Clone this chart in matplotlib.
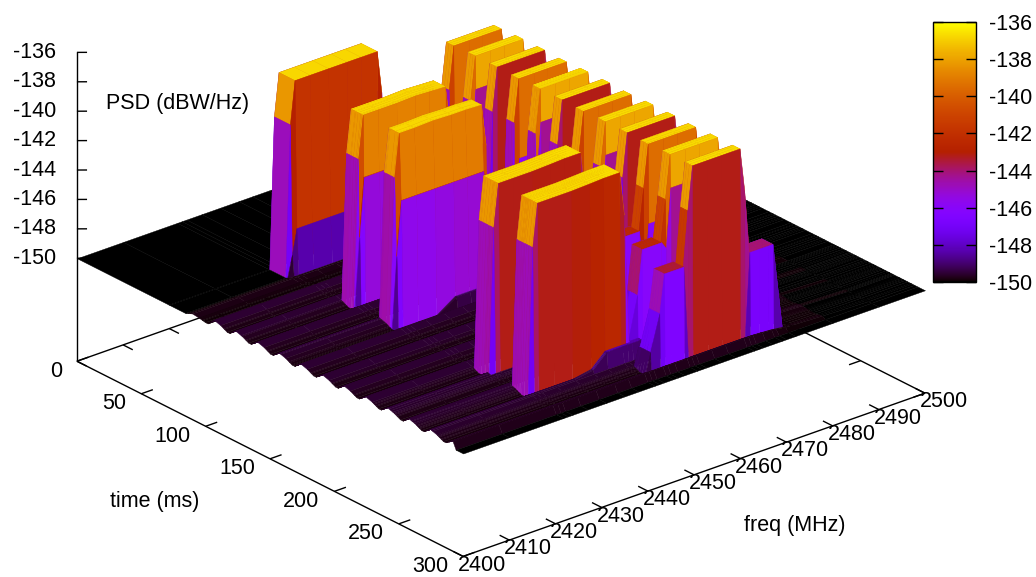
"""PSD waterfall over the 2.4 GHz band, redrawn as a gnuplot-style pm3d surface."""

import matplotlib

matplotlib.use("Agg")
import matplotlib.pyplot as plt
import numpy as np
from matplotlib.cm import ScalarMappable
from matplotlib.colors import LinearSegmentedColormap, Normalize
from mpl_toolkits.mplot3d.art3d import Poly3DCollection

WIDTH, HEIGHT = 1036, 577
Z_MIN, Z_MAX, Z_BASE = -150.0, -136.0, -157.0

FREQ_TICKS = [2400, 2410, 2420, 2430, 2440, 2450, 2460, 2470, 2480, 2490, 2500]
TIME_TICKS = [0, 50, 100, 150, 200, 250, 300]
PSD_TICKS = [-136, -138, -140, -142, -144, -146, -148, -150]

# surface grid in frequency, and how strongly the floor ripple shows at each node
FREQ_NODES = [2400, 2410, 2421.7, 2422.7, 2423.7, 2427, 2431, 2435, 2438, 2441.5,
              2442.5, 2443.5, 2445.5, 2446.5, 2448, 2450.7, 2451.7, 2452.7, 2456,
              2459, 2463, 2464, 2465, 2467, 2469, 2470, 2472, 2480, 2490, 2500]
RIPPLE_WEIGHT = [1, 1, 1, 1, 1, 1, 1, 1, 1, 1,
                 1, 1, 1, 1, 1, 1, 1, 1, 1,
                 1, 1, 1, 1, 0.9, 0.8, 0.7, 0.5, 0.25, 0, 0]

# 20 MHz frames
WIDE_NODES = [2421.7, 2422.7, 2423.7, 2427, 2431, 2435, 2438, 2441.5, 2442.5, 2443.5]
WIDE_START = [71.6, 127.6, 156.8, 230.5, 260.0]
WIDE_END = [84.0, 136.0, 165.0, 242.0, 272.0]
WIDE_TOP_DB = [
    [-136.8, -136.8, -136.8, -136.8, -136.8, -136.8],
    [-136.8, -136.8, -136.8, -136.75, -136.8, -136.85],
    [-136.8, -136.8, -136.75, -136.8, -136.8, -136.85],
    [-136.8, -136.8, -136.8, -136.75, -136.7, -136.7],
    [-136.8, -136.8, -136.8, -136.75, -136.7, -136.7],
]
WIDE_SHOULDER_DB = [-139.7, -139.7, -139.7, -139.7, -139.7]
WIDE_TRAIL_DB = [-146.8, -141.0, -141.3, -150.0, -150.0]
WIDE_TRAIL_SIDE_DB = [-148.5, -145.0, -145.0, -150.0, -150.0]

# 10 MHz frames
COMB_NODES = [2450.7, 2451.7, 2452.7, 2456, 2459, 2463, 2464, 2465]
COMB_END = [103.3, 120.0, 137.0, 153.8, 170.5, 187.5, 204.0, 221.0, 238.0, 254.3, 271.3, 288.7]
COMB_LENGTH = [5.8, 5.8, 5.8, 5.8, 5.8, 5.8, 5.8, 5.8, 5.8, 5.8, 5.8, 5.8]
COMB_TOP_DB = [-136.8, -136.75, -136.75, -136.8, -136.75, -136.75,
               -136.8, -136.75, -136.75, -136.8, -136.75, -136.75]
COMB_TRAIL_DB = [-142.2, -139.0, -150.0, -142.2, -139.0, -150.0,
                 -142.2, -139.0, -150.0, -142.2, -139.0, -150.0]
COMB_TRAIL_SIDE_DB = [-146.0, -143.0, -150.0, -146.0, -143.0, -150.0,
                      -146.0, -143.0, -150.0, -146.0, -143.0, -150.0]

# low side lobes next to the frames
LOBE_START = [247.0, 247.0, 264.0, 264.0, 281.0, 281.0, 280.5, 266.0, 280.0, 262.0, 158.0]
LOBE_END = [254.3, 254.3, 271.3, 271.3, 288.7, 288.7, 288.7, 275.0, 288.7, 275.0, 169.0]
LOBE_LOW = [2446.5, 2445.5, 2446.5, 2445.5, 2446.5, 2445.5, 2465, 2438, 2443.5, 2435, 2435]
LOBE_HIGH = [2450.7, 2445.5, 2450.7, 2445.5, 2450.7, 2445.5, 2470, 2445.5, 2446.5, 2435, 2445.5]
LOBE_DB = [-142.5, -145.5, -142.5, -145.5, -143.4, -146.0, -144.0, -148.4, -148.4, -149.3, -149.0]

# floor ripple
RIPPLE_TIME = [86.5, 103.3, 120.0, 137.0, 153.8, 170.5, 187.5, 204.0,
               221.0, 238.0, 254.3, 271.3]
RIPPLE_GAIN = [0.4, 1, 1, 1, 1, 1, 1, 1, 1, 1, 1, 1]
RIPPLE_OFFSET = [3.0, 8.0, 13.0, 15.0]
RIPPLE_DB = [-149.48, -149.62, -149.85, -149.85]
RIPPLE_ONSET_MS = 84.0


def pm3d_palette():
    g = np.linspace(0, 1, 256)
    rgb = np.column_stack([np.sqrt(g), g ** 3, np.clip(np.sin(2 * np.pi * g), 0, 1)])
    return LinearSegmentedColormap.from_list("pm3d", rgb, N=256)


def band_row(nodes, levels):
    row = np.full(len(FREQ_NODES), -np.inf)
    for freq, level in zip(nodes, levels):
        row[FREQ_NODES.index(freq)] = level
    return row


def collect_bursts():
    """Each burst is a list of (time, row); a row holds until the next knot."""
    bursts = []
    off = band_row([], [])
    for k in range(len(WIDE_START)):
        shoulder = WIDE_SHOULDER_DB[k]
        plateau = band_row(WIDE_NODES, [Z_MIN, shoulder, *WIDE_TOP_DB[k], shoulder, Z_MIN])
        side, trail = WIDE_TRAIL_SIDE_DB[k], WIDE_TRAIL_DB[k]
        falling = band_row(WIDE_NODES, [Z_MIN, side] + [trail] * 6 + [side, Z_MIN])
        bursts.append([(WIDE_START[k] - 0.5, off), (WIDE_START[k], plateau), (WIDE_END[k], plateau),
                       (WIDE_END[k] + 1.5, falling), (WIDE_END[k] + 3.0, off)])
    for k in range(len(COMB_END)):
        top = COMB_TOP_DB[k]
        plateau = band_row(COMB_NODES, [Z_MIN, -139.7, top, top, top, top, -139.7, Z_MIN])
        side, trail = COMB_TRAIL_SIDE_DB[k], COMB_TRAIL_DB[k]
        falling = band_row(COMB_NODES, [Z_MIN, side] + [trail] * 4 + [side, Z_MIN])
        start = COMB_END[k] - COMB_LENGTH[k]
        bursts.append([(start - 0.5, off), (start, plateau), (COMB_END[k], plateau),
                       (COMB_END[k] + 0.5, falling), (COMB_END[k] + 1.0, off)])
    for k in range(len(LOBE_DB)):
        nodes = [f for f in FREQ_NODES if LOBE_LOW[k] <= f <= LOBE_HIGH[k]]
        plateau = band_row(nodes, [LOBE_DB[k]] * len(nodes))
        bursts.append([(LOBE_START[k] - 0.5, off), (LOBE_START[k], plateau),
                       (LOBE_END[k], plateau), (LOBE_END[k] + 1.0, off)])
    return bursts


def build_surface():
    floor_time, floor_db = [0.0, RIPPLE_ONSET_MS], [Z_MIN, Z_MIN]
    for crest, gain in zip(RIPPLE_TIME, RIPPLE_GAIN):
        for offset, level in zip(RIPPLE_OFFSET, RIPPLE_DB):
            floor_time.append(crest + offset)
            floor_db.append(Z_MIN + (level - Z_MIN) * gain)
    floor_time += [288.7 + 3.0, 288.7 + 5.5, 300.0]
    floor_db += [-149.5, Z_MIN, Z_MIN]

    bursts = collect_bursts()
    times = set(floor_time)
    for burst in bursts:
        times.update(t for t, _ in burst)
    times = sorted(times)

    weight = np.array(RIPPLE_WEIGHT, dtype=float)
    rows = []
    for t in times:
        # the floor follows the ripple knots on whichever mesh rows the frames add
        level = np.interp(t, floor_time, floor_db)
        row = Z_MIN + (level - Z_MIN) * weight
        for burst in bursts:
            knots = [k[0] for k in burst]
            idx = np.searchsorted(knots, t, side="right") - 1
            if 0 <= idx < len(burst) - 1:
                row = np.maximum(row, burst[idx][1])
        rows.append(row)
    return np.array(times), np.array(rows)


def draw_surface(ax, times, rows, cmap, norm):
    # far corner first: low time, high frequency
    order = 1
    for i in range(len(times) - 1):
        for j in range(len(FREQ_NODES) - 2, -1, -1):
            corners = [(times[i], FREQ_NODES[j], rows[i, j]),
                       (times[i], FREQ_NODES[j + 1], rows[i, j + 1]),
                       (times[i + 1], FREQ_NODES[j + 1], rows[i + 1, j + 1]),
                       (times[i + 1], FREQ_NODES[j], rows[i + 1, j])]
            color = cmap(norm(np.mean([c[2] for c in corners])))
            poly = Poly3DCollection([corners], facecolors=[color], edgecolors=[color],
                                    linewidths=0.3, zorder=order)
            ax.add_collection3d(poly, autolim=False)
            order += 1


def project_px(ax, t, f, z):
    vec = ax.get_proj() @ np.array([t, f, z, 1.0])
    return ax.transData.transform((vec[0] / vec[3], vec[1] / vec[3]))


def fit_axes(ax):
    """Place the square 3D axes so the floor corners land where they should."""
    corners = [(0, 2400, Z_MIN), (300, 2400, Z_MIN), (300, 2500, Z_MIN)]
    target = np.array([(77, HEIGHT - 257), (463, HEIGHT - 455), (925, HEIGHT - 290)], dtype=float)
    size = 900.0
    left, bottom = 60.0, -200.0
    for _ in range(4):
        ax.set_position([left / WIDTH, bottom / HEIGHT, size / WIDTH, size / HEIGHT])
        ax.apply_aspect()
        now = np.array([project_px(ax, *c) for c in corners])
        ratio = np.linalg.norm(target[2] - target[0]) / np.linalg.norm(now[2] - now[0])
        shift = (target - now).mean(axis=0)
        centre = np.array([left + size / 2, bottom + size / 2]) + shift
        size *= ratio
        left, bottom = centre - size / 2


def draw_frame(ax):
    line = {"color": "black", "lw": 1.0, "zorder": 0, "solid_capstyle": "butt"}
    ax.plot([0, 0], [2400, 2400], [Z_BASE, Z_MAX], **line)
    ax.plot([0, 300], [2400, 2400], [Z_BASE, Z_BASE], **line)
    ax.plot([300, 300], [2400, 2500], [Z_BASE, Z_BASE], **line)
    ax.plot([0, 300], [2500, 2500], [Z_BASE, Z_BASE], **line)
    ax.plot([0, 0], [2400, 2500], [Z_BASE, Z_BASE], **line)

    text = {"ha": "center", "va": "center", "zorder": 100000}
    for tick in PSD_TICKS:
        ax.plot([0, 3.2], [2400, 2401.3], [tick, tick], **line)
        ax.text(-6.7, 2397.32, tick, str(tick), **{**text, "ha": "right"})
    for tick in TIME_TICKS:
        ax.plot([tick, tick], [2400, 2402.5], [Z_BASE, Z_BASE], **line)
        ax.plot([tick, tick], [2500, 2497.5], [Z_BASE, Z_BASE], **line)
        ax.text(tick + 4.15, 2395.6, Z_BASE, str(tick), **{**text, "ha": "right"})
    for tick in FREQ_TICKS:
        ax.plot([300, 292.5], [tick, tick], [Z_BASE, Z_BASE], **line)
        ax.plot([0, 7.5], [tick, tick], [Z_BASE, Z_BASE], **line)
        ax.text(314, tick + 0.2, Z_BASE, str(tick), **text)


def main():
    plt.rcParams["font.family"] = ["Liberation Sans", "DejaVu Sans"]
    plt.rcParams["font.size"] = 15.5
    plt.rcParams["axes.unicode_minus"] = False

    cmap = pm3d_palette()
    norm = Normalize(Z_MIN, Z_MAX)
    times, rows = build_surface()

    fig = plt.figure(figsize=(WIDTH / 100, HEIGHT / 100), dpi=100, facecolor="white")
    ax = fig.add_axes([0, 0, 1, 1], projection="3d", proj_type="ortho", computed_zorder=False)
    ax.set_xlim(0, 300)
    ax.set_ylim(2400, 2500)
    ax.set_zlim(Z_BASE, Z_MAX)
    ax.set_box_aspect((1, 1, 0.566))
    ax.view_init(elev=25, azim=-39.9)
    ax.set_axis_off()
    ax.patch.set_visible(False)
    fit_axes(ax)

    draw_frame(ax)
    draw_surface(ax, times, rows, cmap, norm)

    fig.text(178 / WIDTH, 1 - 104 / HEIGHT, "PSD (dBW/Hz)", ha="center", va="center")
    fig.text(155 / WIDTH, 1 - 501 / HEIGHT, "time (ms)", ha="center", va="center")
    fig.text(795 / WIDTH, 1 - 525 / HEIGHT, "freq (MHz)", ha="center", va="center")

    cax = fig.add_axes([933 / WIDTH, 1 - 282 / HEIGHT, 43 / WIDTH, 260 / HEIGHT])
    bar = fig.colorbar(ScalarMappable(norm=norm, cmap=cmap), cax=cax, ticks=PSD_TICKS)
    bar.outline.set_linewidth(1.0)
    bar.ax.set_yticklabels([str(t) for t in PSD_TICKS])
    bar.ax.tick_params(direction="in", length=7, width=1.0, left=True, right=True, pad=9.5)

    fig.savefig("out.png", dpi=100, facecolor="white")


if __name__ == "__main__":
    main()
